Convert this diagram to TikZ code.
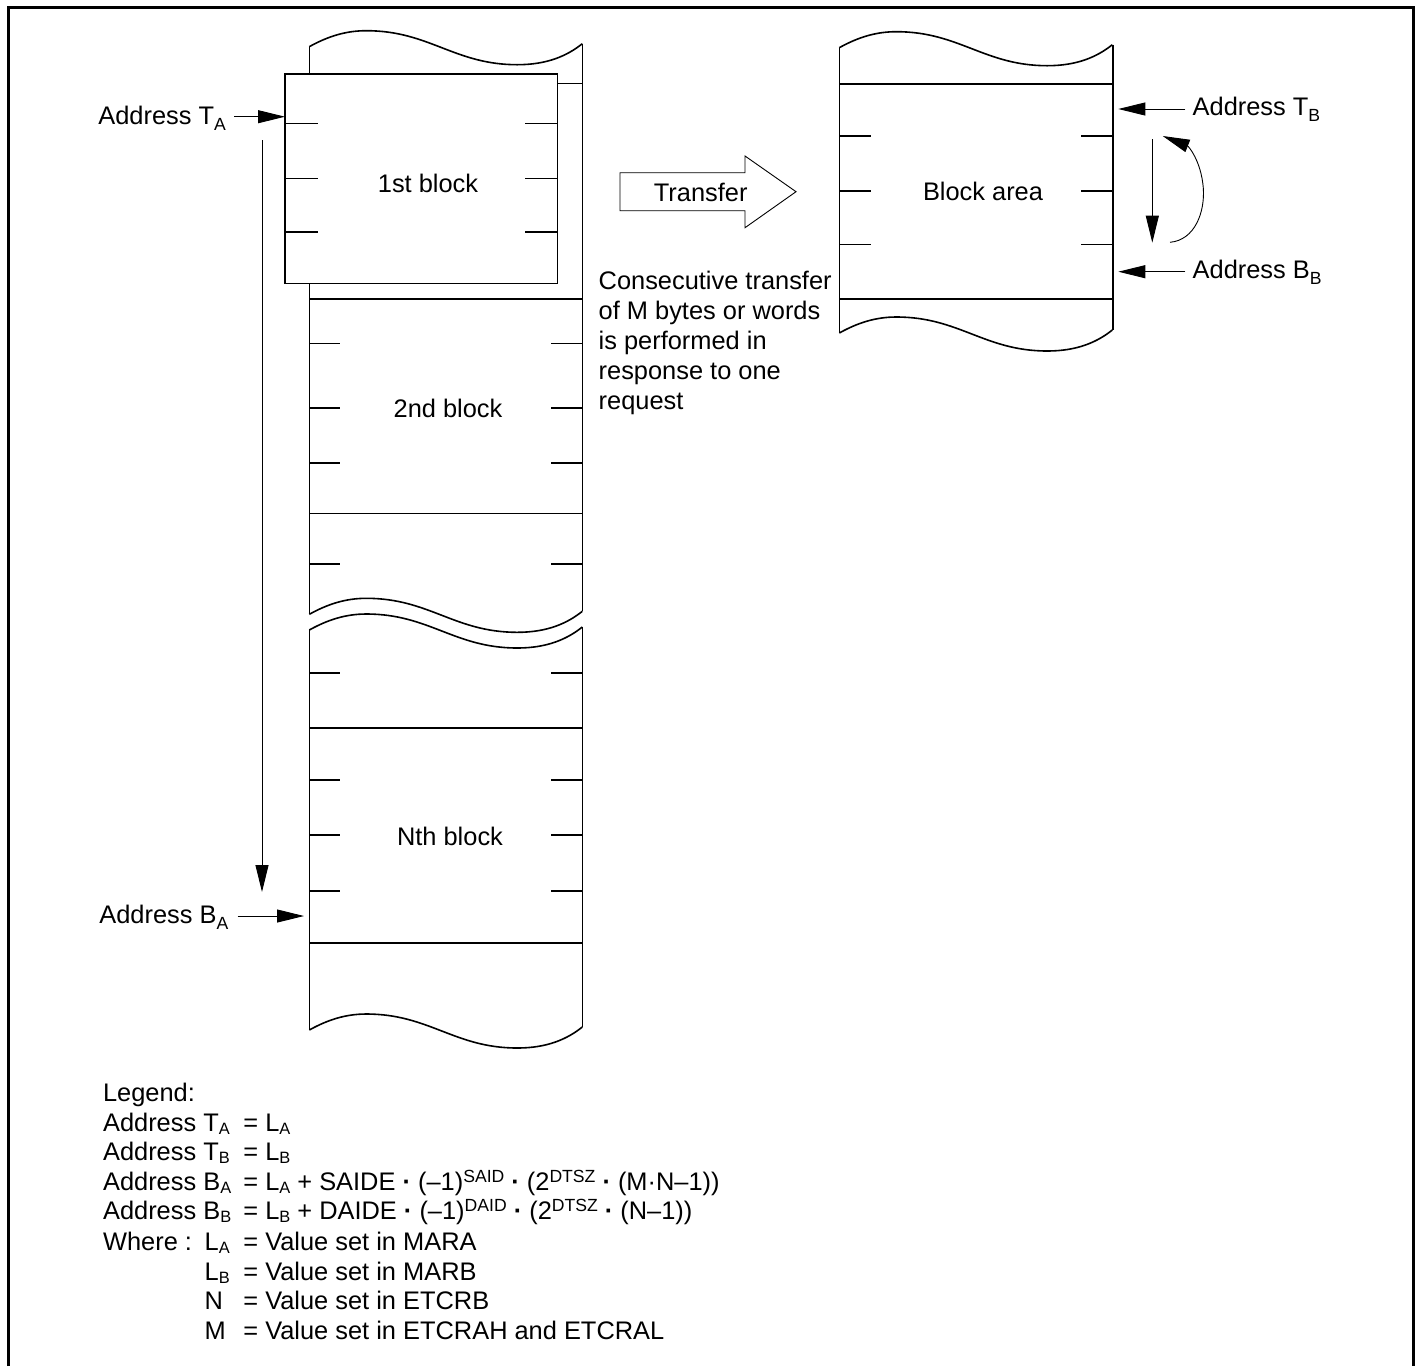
\documentclass[tikz,border=0pt]{standalone}
\usepackage{fontspec}
\setmainfont{Liberation Sans}
\usetikzlibrary{arrows.meta}
\newcommand{\lsb}[1]{\raisebox{-3pt}{\fontsize{8.8}{9}\selectfont #1}}
\newcommand{\gsb}[1]{\raisebox{-1.6pt}{\fontsize{8.2}{9}\selectfont #1}}
\newcommand{\gsp}[1]{\raisebox{4pt}{\fontsize{8.8}{9}\selectfont #1}}
\tikzset{
  blk/.style={line width=0.8pt},
  arr/.style={line width=0.45pt,-{Triangle[length=13.5pt,width=6.5pt]}},
  lbl/.style={inner sep=0pt,anchor=base west,font=\fontsize{12.7}{15}\selectfont},
  ctr/.style={inner sep=0pt,font=\fontsize{12.7}{15}\selectfont},
  wave/.pic={\draw[blk] (0,0) .. controls (18,-10) and (36,-16) .. (57,-16) .. controls (120,-16) and (145,18) .. (208,18) .. controls (238,18) and (258,9) .. (273,-3);}
}
\begin{document}
\begin{tikzpicture}[x=0.5pt,y=-0.5pt]
\useasboundingbox (0,0) rectangle (1417,1366);
% outer frame
\draw[line width=1.5pt] (8,1366) -- (8,7.5) -- (1413.5,7.5) -- (1413.5,1366);

% ---- left memory column, upper part
\draw[blk] (309.3,46.7) -- (309.3,614.3);
\draw[blk] (582.3,43.7) -- (582.3,611.3);
\pic at (309.3,46.7) {wave};
\pic at (309.3,614.3) {wave};
% lower part
\pic at (309.3,630) {wave};
\pic at (309.3,1030) {wave};
\draw[blk] (309.3,630) -- (309.3,1030);
\draw[blk] (582.3,627) -- (582.3,1027);
\foreach \y in {83.3,299,513.3,728,943}
  \draw[blk] (309.3,\y) -- (582.3,\y);
\foreach \y in {343.3,408,462.7,564,672.7,780,835,890.7}{
  \draw[blk] (309.3,\y) -- +(31,0);
  \draw[blk] (582.3,\y) -- +(-31,0);
}
% 1st block (overlaid)
\draw[blk,fill=white] (285,74) rectangle (557.6,283.3);
\foreach \y in {123.3,178.3,231.7}{
  \draw[blk] (285,\y) -- (318,\y);
  \draw[blk] (525,\y) -- (557.6,\y);
}
\node[ctr] (t1) at (428,183) {1st block};
\node[ctr] (t2) at (448,408) {2nd block};
\node[ctr] (tN) at (450,836) {Nth block};

% ---- right block area
\draw[blk] (839.3,47.7) -- (839.3,333);
\draw[blk] (1112.7,44.7) -- (1112.7,330);
\pic at (839.3,47.7) {wave};
\pic at (839.3,333) {wave};
\foreach \y in {84,299}
  \draw[blk] (839.3,\y) -- (1112.7,\y);
\foreach \y in {136,191,244.3}{
  \draw[blk] (839.3,\y) -- +(32,0);
  \draw[blk] (1112.7,\y) -- +(-32,0);
}
\node[ctr] (tB) at (983,191) {Block area};

% ---- transfer arrow
\draw[line width=0.45pt] (620,172.7) -- (745,172.7) -- (745,156) -- (796,191.7)
  -- (745,227.7) -- (745,210.7) -- (620,210.7) -- cycle;
\node[ctr] (tT) at (700.7,192) {Transfer};
\node[inner sep=0pt,anchor=north west,align=left,font=\fontsize{12.7}{15}\selectfont] (tC) at (598.3,271)
  {Consecutive transfer\\of M bytes or words\\is performed in\\response to one\\request};

% ---- address labels and arrows
\node[lbl] (lTA) at (98,124) {Address T\lsb{A}};
\coordinate (tTA) at (285,116.7);
\draw[arr,shorten <=4pt] (lTA.east |- tTA) -- (tTA);

\node[lbl] (lBA) at (99,923) {Address B\lsb{A}};
\coordinate (tBA) at (304,916);
\draw[arr,shorten <=4.5pt] (lBA.east |- tBA) -- (tBA);

\coordinate (vA1) at (262,140);
\coordinate (vA2) at (262,892);
\draw[arr] (vA1) -- (vA2);

\node[lbl] (lTB) at (1192.3,115.7) {Address T\lsb{B}};
\coordinate (tTB) at (1118.3,109);
\draw[arr,shorten <=3.5pt] (lTB.west |- tTB) -- (tTB);

\node[lbl] (lBB) at (1192.3,278) {Address B\lsb{B}};
\coordinate (tBB) at (1118.3,271.7);
\draw[arr,shorten <=3.5pt] (lBB.west |- tBB) -- (tBB);

\coordinate (vB1) at (1152.3,139);
\coordinate (vB2) at (1152.3,242.7);
\draw[arr] (vB1) -- (vB2);
\coordinate (cB1) at (1170,242.3);
\coordinate (cB2) at (1162.7,136);
\draw[arr] (cB1) .. controls (1195,240) and (1205,212) .. (1203.3,188)
  .. controls (1201,160) and (1188,146) .. (cB2);

% ---- legend
\node[lbl] (g0) at (102.7,1101.7) {Legend:};
\node[lbl] (g1a) at (102.7,1131.7) {Address T\gsb{A}};
\node[lbl] (g1b) at (243,1131.7) {= L\gsb{A}};
\node[lbl] (g2a) at (102.7,1160.7) {Address T\gsb{B}};
\node[lbl] (g2b) at (243,1160.7) {= L\gsb{B}};
\node[lbl] (g3a) at (102.7,1190) {Address B\gsb{A}};
\node[lbl] (g3b) at (243,1190) {= L\gsb{A} + SAIDE \textbf{·} (–1)\gsp{SAID} \textbf{·} (2\gsp{DTSZ} \textbf{·} (M·N–1))};
\node[lbl] (g4a) at (102.7,1219.3) {Address B\gsb{B}};
\node[lbl] (g4b) at (243,1219.3) {= L\gsb{B} + DAIDE \textbf{·} (–1)\gsp{DAID} \textbf{·} (2\gsp{DTSZ} \textbf{·} (N–1))};
\node[lbl] (g5a) at (102.7,1250) {Where :};
\node[lbl] (g5b) at (204.3,1250) {L\gsb{A}};
\node[lbl] (g5c) at (243,1250) {= Value set in MARA};
\node[lbl] (g6b) at (204.3,1280) {L\gsb{B}};
\node[lbl] (g6c) at (243,1280) {= Value set in MARB};
\node[lbl] (g7b) at (204.3,1309.3) {N};
\node[lbl] (g7c) at (243,1309.3) {= Value set in ETCRB};
\node[lbl] (g8b) at (204.3,1339.3) {M};
\node[lbl] (g8c) at (243,1339.3) {= Value set in ETCRAH and ETCRAL};
\end{tikzpicture}
\end{document}
